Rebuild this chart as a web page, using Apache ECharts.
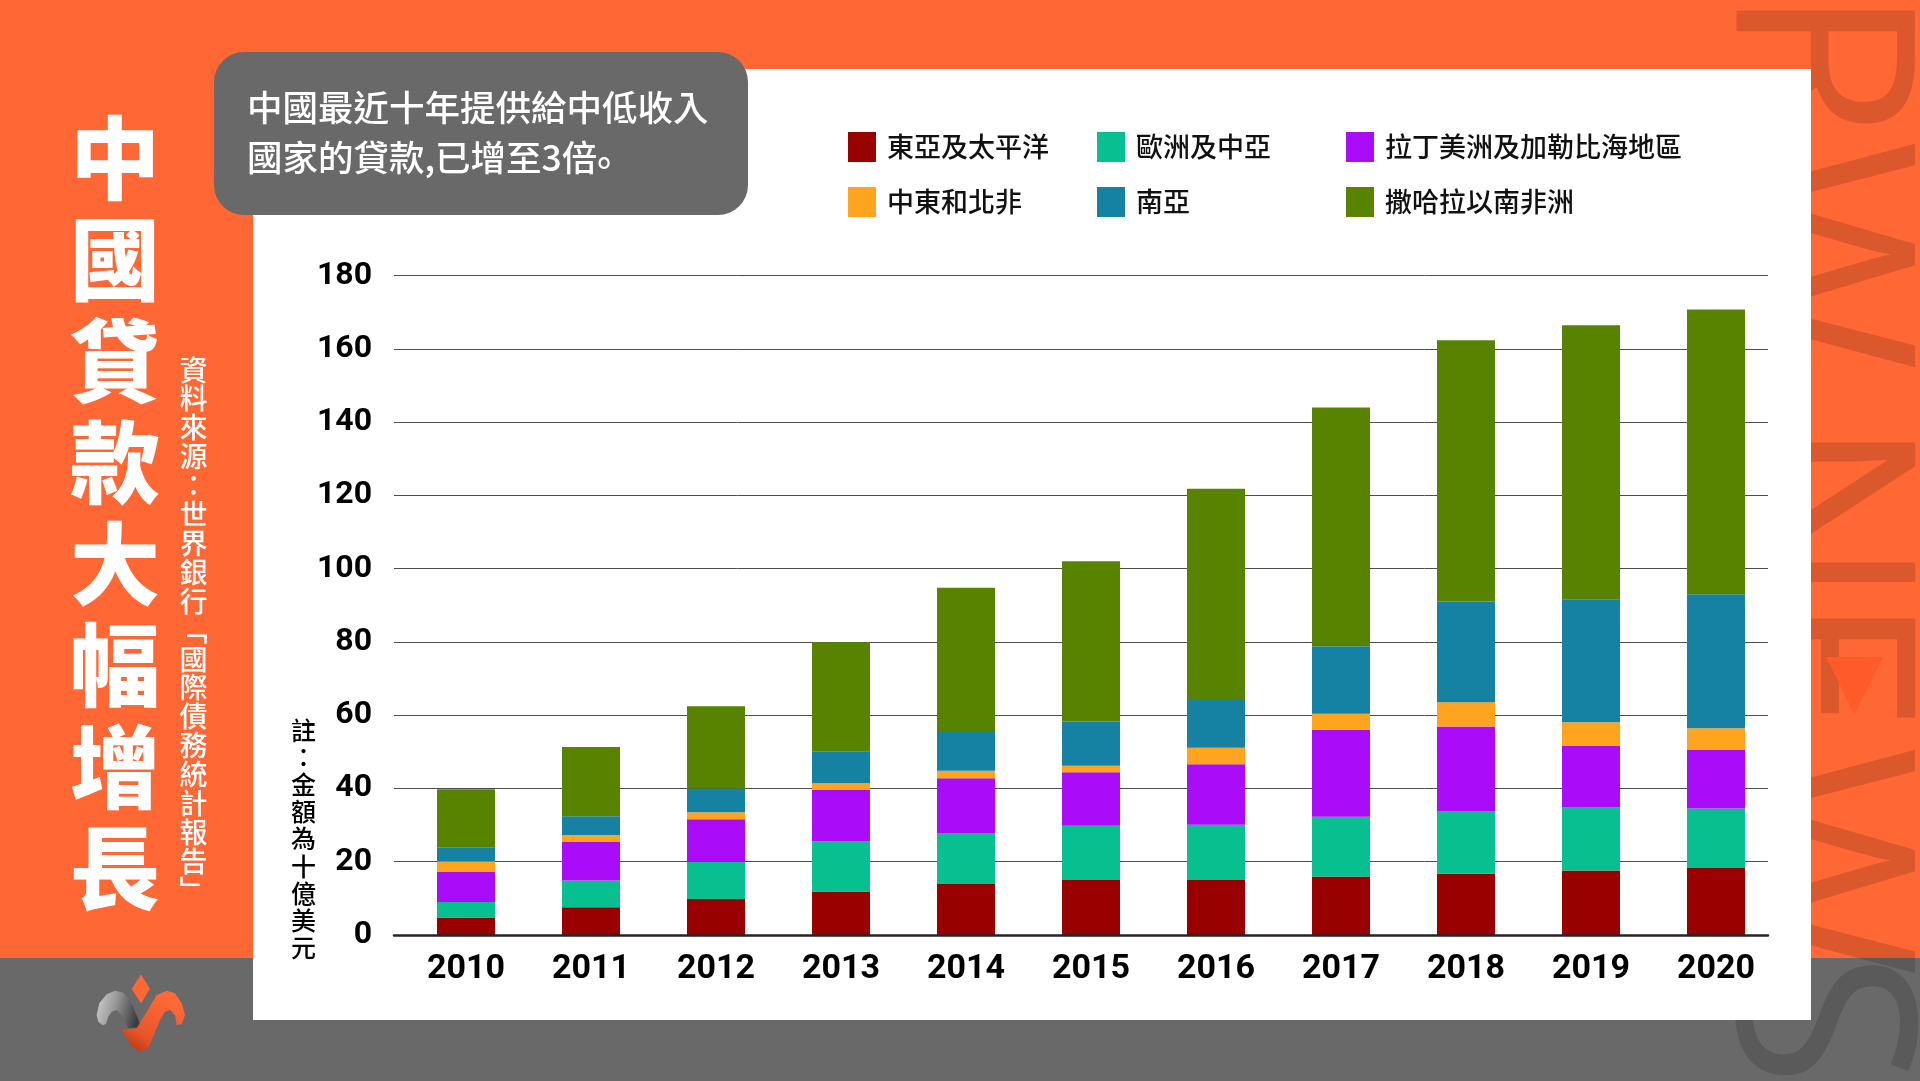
<!DOCTYPE html>
<html>
<head>
<meta charset="utf-8">
<script src="https://cdn.jsdelivr.net/npm/echarts@6.0.0/dist/echarts.min.js"></script>
<style>
html,body{margin:0;padding:0;background:#ff6734;}
#chart{width:1920px;height:1081px;}
</style>
</head>
<body>
<div id="chart"></div>
<script>
// ---- data ----
const years = ['2010','2011','2012','2013','2014','2015','2016','2017','2018','2019','2020'];
const seriesNames = ['東亞及太平洋','歐洲及中亞','拉丁美洲及加勒比海地區','中東和北非','南亞','撒哈拉以南非洲'];
const eastAsiaPacific = [4.8, 7.6, 9.8, 11.9, 13.9, 15.0, 15.0, 16.0, 16.7, 17.6, 18.3];
const europeCentralAsia = [4.2, 7.3, 10.1, 13.6, 13.8, 14.8, 15.1, 16.3, 17.0, 17.2, 16.2];
const latinAmericaCaribbean = [8.3, 10.6, 11.7, 14.2, 15.1, 14.6, 16.5, 23.7, 23.2, 16.9, 16.1];
const middleEastNorthAfrica = [2.8, 1.8, 1.9, 1.7, 2.0, 1.8, 4.5, 4.4, 6.6, 6.4, 5.8];
const southAsia = [3.7, 5.1, 6.5, 8.6, 10.9, 12.1, 13.3, 18.4, 27.5, 33.4, 36.6];
const subSaharanAfrica = [16.0, 18.9, 22.4, 29.9, 39.1, 43.7, 57.4, 65.2, 71.3, 74.9, 77.7];
const yTicks = {min: 0, max: 180, interval: 20};

const seriesValues = [eastAsiaPacific, europeCentralAsia, latinAmericaCaribbean, middleEastNorthAfrica, southAsia, subSaharanAfrica];
const colors = ['#990000', '#08bf8f', '#aa0cfa', '#ffa41f', '#1582a3', '#588300'];

const CJK = '"Noto Sans CJK TC","Noto Sans CJK SC",sans-serif';

const chart = echarts.init(document.getElementById('chart'), null, {renderer: 'canvas'});

// legends: two rows of three
const legendCols = [848, 1097, 1346];
const legendRows = [132, 187];
const legends = seriesNames.map((n, i) => ({
  left: legendCols[i % 3],
  top: legendRows[Math.floor(i / 3)],
  padding: 0,
  itemWidth: 28,
  itemHeight: 30,
  icon: 'rect',
  selectedMode: false,
  data: [n],
  textStyle: {fontFamily: CJK, fontSize: 27, fontWeight: 500, color: '#111', padding: [0, 0, 0, 6]}
}));

const series = seriesNames.map((n, i) => ({
  name: n,
  type: 'bar',
  stack: 'total',
  xAxisIndex: 1,
  yAxisIndex: 1,
  barWidth: 58,
  itemStyle: {color: colors[i]},
  data: seriesValues[i]
}));

function vert(s) { return s.split('').join('\n'); }

const wm = 'rgba(0,0,0,0.14)';
const wmLetters = [['R', -14], ['W', 140], ['N', 418], ['E', 594], ['W', 746], ['S', 950]];

const graphic = [
  // bottom grey band
  {type: 'rect', z: -30, shape: {x: 0, y: 958, width: 1920, height: 123}, style: {fill: '#696969'}},
  // watermark letters
  ...wmLetters.map(([ch, y]) => ({
    type: 'text', z: -29, x: 1683, y: y, rotation: -Math.PI / 2,
    style: {text: ch, font: '400 250px "Open Sans"', fill: wm, textAlign: 'left', textVerticalAlign: 'bottom'}
  })),
  {type: 'polygon', z: -29, shape: {points: [[1826, 657], [1883, 657], [1854.5, 714]]}, style: {fill: '#ff5a2a'}},
  // white panel
  {type: 'rect', z: -20, shape: {x: 253, y: 69, width: 1558, height: 951}, style: {fill: '#ffffff'}},
  // title box
  {type: 'rect', z: -15, shape: {x: 214, y: 52, width: 534, height: 163, r: 30}, style: {fill: '#696969'}},
  {type: 'text', z: 5, x: 247, y: 83,
    style: {text: '中國最近十年提供給中低收入', font: '500 35.5px ' + CJK, lineHeight: 50, fill: '#ffffff', textAlign: 'left', textVerticalAlign: 'top'}},
  {type: 'text', z: 5, x: 247, y: 133,
    style: {text: '國家的貸款,已增至3倍{p|。}', font: '500 35.5px ' + CJK, lineHeight: 50, fill: '#ffffff', textAlign: 'left', textVerticalAlign: 'top',
      rich: {p: {fontFamily: '"Noto Sans CJK SC",sans-serif', fontSize: 35.5, fontWeight: 500, fill: '#ffffff', color: '#ffffff', lineHeight: 50, padding: [0, 0, 10, 0]}}}},
  // big vertical title
  {type: 'text', z: 5, x: 115, y: 107,
    style: {text: vert('中國貸款大幅增長'), font: '900 90px ' + CJK, lineHeight: 101.5, fill: '#ffffff', textAlign: 'center', textVerticalAlign: 'top'}},
  // source
  {type: 'text', z: 5, x: 193.5, y: 355.5,
    style: {text: vert('資料來源：世界銀行﹁國際債務統計報告﹂'), font: '500 28px ' + CJK, lineHeight: 28.9, fill: '#ffffff', textAlign: 'center', textVerticalAlign: 'top'}},
  // note
  {type: 'text', z: 5, x: 303.5, y: 716.5,
    style: {text: vert('註：金額為十億美元'), font: '500 25px ' + CJK, lineHeight: 27.2, fill: '#000000', textAlign: 'center', textVerticalAlign: 'top'}},
  // logo
  {type: 'polygon', z: 5, shape: {points: [[141, 974.3], [150, 989], [141, 1003.3], [131.7, 989]]}, style: {fill: '#ff6734'}},
  {type: 'polygon', z: 5, shape: {points: [[96.7, 1015], [99.3, 1003.3], [106.7, 994.3], [115, 990.7], [123.3, 992.7], [130, 1000], [137.3, 1016.7], [141, 1027.3], [128.3, 1028.3], [121.7, 1015], [116.7, 1010], [111.7, 1011.7], [108.3, 1016.7], [106, 1024], [102.7, 1025.3], [98.3, 1021.7]]},
    style: {fill: {type: 'linear', x: 0, y: 0, x2: 1, y2: 0.3, colorStops: [{offset: 0, color: '#d0d0d0'}, {offset: 0.45, color: '#9a9a9a'}, {offset: 1, color: '#3c3c3c'}]}}},
  {type: 'polygon', z: 6, shape: {points: [[121.7, 1030], [136.7, 1028.3], [156.7, 995], [166.7, 990.7], [175, 993.3], [181.7, 1003.3], [185, 1015], [181.7, 1024], [176.7, 1025], [175, 1015], [170, 1010], [165, 1011.7], [160, 1020], [148.3, 1048.3], [140, 1051.7], [131.7, 1046.7]]},
    style: {fill: {type: 'linear', x: 0, y: 1, x2: 0.6, y2: 0, colorStops: [{offset: 0, color: '#a8300f'}, {offset: 0.35, color: '#e8552a'}, {offset: 1, color: '#ff6a36'}]}}}
];

const option = {
  backgroundColor: '#ff6734',
  animation: false,
  graphic: graphic,
  legend: legends,
  grid: [
    {left: 394, top: 275.5, width: 1374, height: 659.5},
    {left: 403.5, top: 275.5, width: 1375, height: 659.5}
  ],
  xAxis: [
    {gridIndex: 0, type: 'category', data: years, z: 10,
      axisLine: {show: true, lineStyle: {color: '#2b2424', width: 2.5}},
      axisTick: {show: false}, axisLabel: {show: false}, splitLine: {show: false}},
    {gridIndex: 1, type: 'category', data: years,
      axisLine: {show: false}, axisTick: {show: false}, splitLine: {show: false},
      axisLabel: {fontFamily: 'Roboto', fontWeight: 'bold', fontSize: 34, color: '#000', margin: 17}}
  ],
  yAxis: [
    {gridIndex: 0, type: 'value', min: yTicks.min, max: yTicks.max, interval: yTicks.interval,
      axisLine: {show: false}, axisTick: {show: false},
      axisLabel: {fontFamily: 'Roboto', fontWeight: 'bold', fontSize: 32, color: '#000', margin: 22},
      splitLine: {lineStyle: {color: '#4d4d4d', width: 1}}},
    {gridIndex: 1, type: 'value', min: yTicks.min, max: yTicks.max, interval: yTicks.interval, show: false,
      splitLine: {show: false}}
  ],
  series: series
};
chart.setOption(option);
</script>
</body>
</html>
